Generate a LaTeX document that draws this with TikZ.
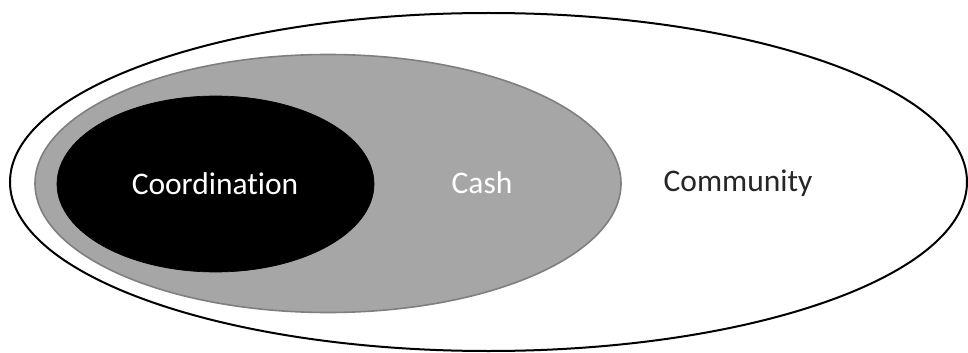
\documentclass[tikz,border=0pt]{standalone}
\usepackage{fontspec}
\setmainfont[Ligatures=NoCommon]{Carlito}
\usetikzlibrary{shapes.geometric,positioning}
\definecolor{cashcol}{HTML}{A6A6A6}
\definecolor{cashedge}{HTML}{7F7F7F}

\begin{document}
\begin{tikzpicture}[x=0.75pt,y=-0.75pt,
  ring/.style={ellipse,inner sep=0pt,draw,line width=1.5pt},
  label/.style={font=\fontsize{23.6}{28}\selectfont,inner sep=0pt}]
  \useasboundingbox (0,0) rectangle (968,353);
  \node[ring,fill=white,minimum width=717.75pt,minimum height=253.5pt] (community) at (488.5,182) {};
  \node[ring,fill=cashcol,draw=cashedge,line width=1.2pt,minimum width=439.5pt,minimum height=193.5pt] (cash) at (328,183.5) {};
  \node[ring,fill=black,draw=black,line width=0.5pt,minimum width=237.75pt,minimum height=132pt] (coord) at (215.5,184) {};
  \node[label,text=white] (tcoord) at (215,184) {Coordination};
  \node[label,text=white] (tcash) at (482,183) {Cash};
  \node[label,text=black!85] (tcomm) at (738,183) {Community};
\end{tikzpicture}
\end{document}
